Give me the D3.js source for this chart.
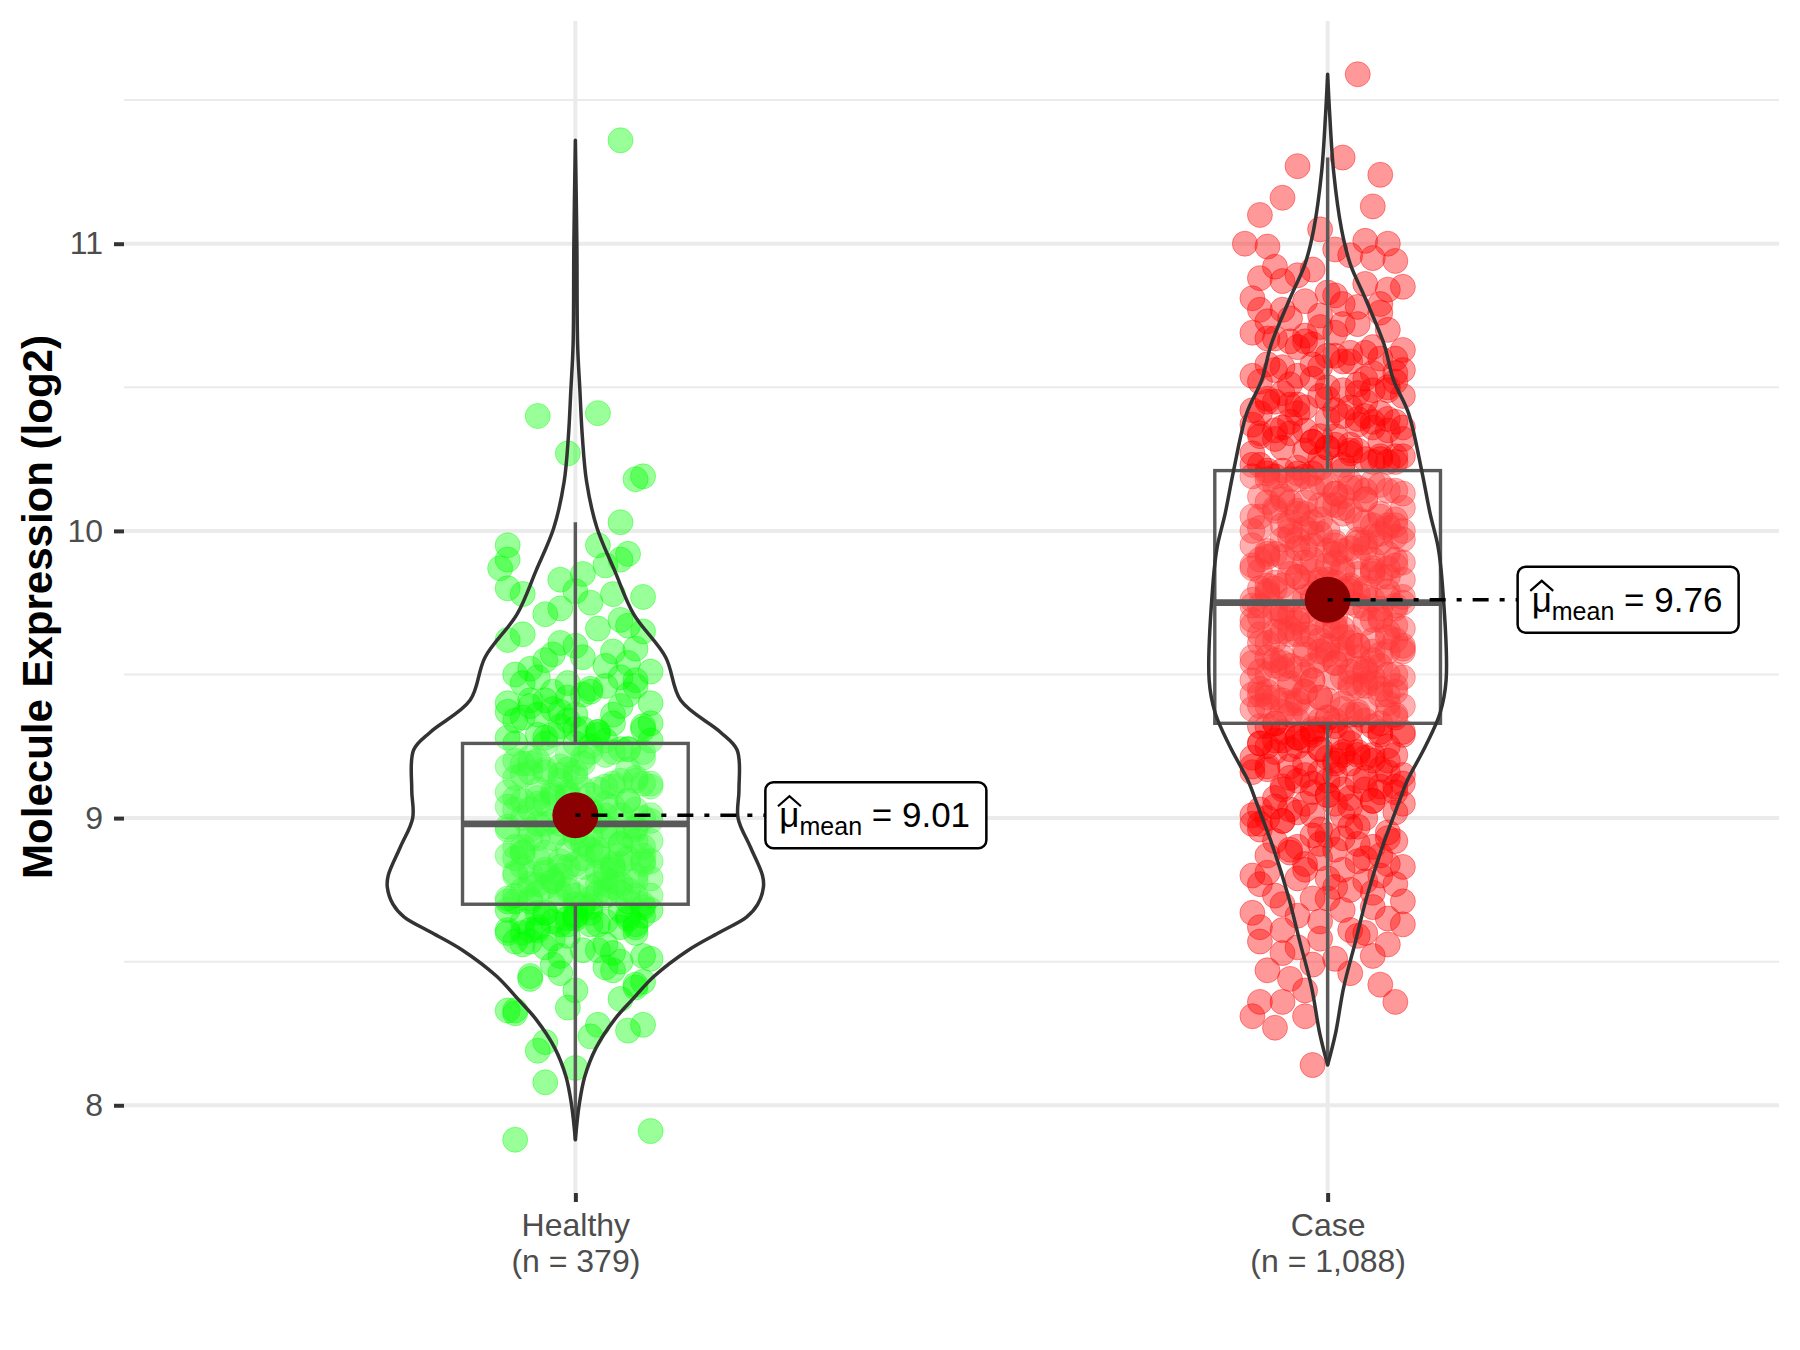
<!DOCTYPE html>
<html>
<head>
<meta charset="utf-8">
<script src="https://cdnjs.cloudflare.com/ajax/libs/d3/7.8.5/d3.min.js"></script>
<style>
  body { margin: 0; background: #fff; }
  svg { display: block; font-family: "Liberation Sans", Arial, sans-serif; }
</style>
</head>
<body>
<div id="chart"></div>
<script>
// ---- data ----
var groups = ["Healthy", "Case"];
var groupCounts = ["379", "1,088"];
var yTicks = [8, 9, 10, 11];
var yMinorTicks = [8.5, 9.5, 10.5, 11.5];
var means = [9.01, 9.76];
var q1 = [8.70, 9.33];
var medians = [8.98, 9.75];
var q3 = [9.26, 10.21];
var whiskerLow = [7.88, 8.14];
var whiskerHigh = [10.03, 11.30];

// violin outlines: value and relative density (1 = widest violin)
var healthyViolinY = [7.88, 8.0, 8.1, 8.2, 8.3, 8.366, 8.45, 8.54, 8.6, 8.655, 8.7, 8.76, 8.8, 8.9, 9.0, 9.1, 9.237, 9.3, 9.41, 9.56, 9.71, 9.86, 10.01, 10.17, 10.33, 10.49, 10.65, 11.0, 11.36];
var healthyViolinD = [0.0, 0.02, 0.05, 0.11, 0.21, 0.30, 0.42, 0.60, 0.76, 0.91, 0.97, 1.0, 0.995, 0.93, 0.865, 0.87, 0.86, 0.77, 0.56, 0.48, 0.31, 0.21, 0.115, 0.06, 0.037, 0.024, 0.012, 0.008, 0.0];
var caseViolinY = [8.14, 8.25, 8.41, 8.57, 8.73, 8.89, 9.05, 9.13, 9.25, 9.366, 9.48, 9.83, 9.945, 10.06, 10.21, 10.41, 10.526, 10.65, 10.81, 10.93, 11.05, 11.25, 11.45, 11.59];
var caseViolinD = [0.0, 0.042, 0.085, 0.148, 0.21, 0.286, 0.376, 0.423, 0.52, 0.598, 0.63, 0.608, 0.587, 0.545, 0.50, 0.43, 0.35, 0.30, 0.20, 0.12, 0.074, 0.032, 0.011, 0.0];

// jittered points: values and horizontal jitter (hundredths of a category step)
var healthyValues = [
  11.36,10.41,10.40,10.27,10.19,10.18,10.03,9.95,9.95,9.92,9.90,9.90,9.88,9.87,9.85,9.83,9.80,9.79,9.78,9.78,9.77,9.75,9.73,9.71,9.67,
  9.66,9.64,9.65,9.61,9.69,9.62,9.60,
  9.58,9.55,9.59,9.52,9.56,9.51,9.57,9.53,9.50,9.54,
  9.47,9.44,9.49,9.41,9.46,9.42,9.48,9.40,9.45,9.43,
  9.38,9.33,9.36,9.31,9.39,9.34,9.30,9.37,9.32,9.35,9.36,9.31,
  9.28,9.24,9.29,9.21,9.26,9.23,9.27,9.20,9.25,9.22,9.28,9.24,9.26,9.21,9.23,9.29,
  9.17,9.13,9.19,9.11,9.15,9.18,9.12,9.16,9.10,9.14,9.18,9.13,9.16,9.11,9.19,9.15,9.12,9.17,9.14,9.10,
  9.08,9.03,9.06,9.01,9.09,9.04,9.07,9.02,9.05,9.00,9.08,9.03,9.06,9.02,9.09,9.05,9.01,9.07,9.04,9.00,
  8.97,8.93,8.99,8.91,8.95,8.98,8.92,8.96,8.90,8.94,8.98,8.92,8.96,8.91,8.99,8.94,8.97,8.93,8.95,8.90,
  8.88,8.83,8.86,8.81,8.89,8.84,8.87,8.82,8.85,8.80,8.88,8.83,8.86,8.81,8.89,8.84,8.87,8.82,8.85,8.80,8.86,8.83,8.88,8.84,
  8.78,8.73,8.76,8.71,8.79,8.74,8.77,8.72,8.75,8.70,8.78,8.73,8.76,8.71,8.79,8.74,8.77,8.72,8.75,8.70,8.76,8.73,8.78,8.74,8.71,
  8.68,8.63,8.66,8.61,8.69,8.64,8.67,8.62,8.65,8.60,8.68,8.63,8.66,8.61,8.69,8.64,8.67,8.62,8.65,8.60,8.66,8.63,
  8.58,8.53,8.56,8.51,8.59,8.54,8.57,8.52,8.55,8.50,8.57,8.54,8.56,8.52,
  8.48,8.45,8.42,8.46,8.40,
  8.37,8.32,8.24,8.22,
  8.47,8.49,8.44,8.43,8.41,8.34,8.33,8.33,8.28,8.28,8.26,8.19,8.13,8.08,7.91,7.88
];
var healthyJitter = [
  6,3,-5,-1,9,8,6,-9,3,7,-9,6,4,-10,1,-2,-9,0,-7,5,9,2,-2,-4,7,
  3,-7,9,-2,6,-9,0,5,-4,8,-6,1,10,-3,4,-8,7,-1,2,-5,
  -6,4,-1,8,-9,2,7,-3,10,-5,0,6,-8,3,-2,9,-7,5,1,-4,
  7,-3,1,-8,5,10,-5,2,-1,-9,6,0,-6,9,3,-4,8,-7,4,-2,
  -2,9,-6,3,0,-9,6,-4,10,1,-7,5,-1,8,-5,2,-8,7,4,-3,
  5,-8,2,-4,9,-1,-6,7,0,-9,4,10,-3,1,-7,8,-5,3,6,-2,
  -5,1,8,-7,4,-2,10,-9,6,-3,2,7,-6,0,9,-4,5,-8,3,-1,
  0,6,-4,10,-8,3,-1,7,-6,2,9,-9,4,-2,8,-5,1,-7,5,-3,
  8,-1,-9,4,-5,6,2,-7,9,-3,0,5,-8,10,-2,3,-6,7,1,-4,
  -8,5,3,-6,10,-2,7,-9,1,4,-4,8,0,-7,6,-1,9,-5,2,-3,
  2,-5,7,-9,0,8,-3,5,-7,10,-1,3,-6,9,-4,6,-8,1,4,-2,
  4,-6,8,-2,0,6,-8,2,-4,
  5,-3,-6,9,8,-1,-8,-9,9,3,7,-5,0,-4,10,-8
];
var healthyMoreValues = [
  9.44,9.40,9.47,9.43,9.49,9.41,9.46,
  9.34,9.30,9.37,9.33,9.39,9.31,9.36,9.32,
  9.24,9.20,9.27,9.23,9.29,9.21,9.26,9.22,
  9.14,9.10,9.17,9.13,9.19,9.11,9.16,9.12,
  9.04,9.00,9.07,9.03,9.09,9.01,9.06,9.02,9.08,9.05,9.03,9.07,
  8.94,8.90,8.97,8.93,8.99,8.91,8.96,8.92,8.98,8.95,8.93,8.97,
  8.84,8.80,8.87,8.83,8.89,8.81,8.86,8.82,8.88,8.85,8.83,8.87,8.81,
  8.74,8.70,8.77,8.73,8.79,8.71,8.76,8.72,8.78,8.75,8.73,8.77,8.71,8.75,
  8.64,8.60,8.67,8.63,8.69,8.61,8.66,8.62,8.68,8.65,8.63,8.67
];
var healthyMoreJitter = [
  -3,10,-7,1,6,-4,8,-1,3,-9,5,-6,9,0,-2,7,-8,4,2,-5,
  9,-4,4,-8,1,7,-2,-6,5,0,10,-9,3,-5,8,-1,6,-7,2,-3,
  -5,2,-1,7,-8,4,-3,10,1,-6,8,-4,5,0,-9,6,-2,9,-7,3,
  -4,1,5,-7,9,-2,3,-8,6,0,-5,10,-3,7,2,-9,8,-1,4,-6,
  -2,4,-7,8,-4,3,9,-6,0,6,-9,-1,2,-5
];

var caseValues = [
  11.59,11.30,11.27,11.24,11.16,11.13,11.10,11.05,11.01,11.00,11.00,10.99,10.98,
  10.96,10.92,10.94,10.91,10.95,
  10.88,10.83,10.86,10.81,10.89,10.84,10.87,10.82,10.85,10.80,
  10.78,10.73,10.76,10.71,10.79,10.74,10.77,10.72,10.75,10.70,10.77,10.72,10.79,
  10.68,10.63,10.66,10.61,10.69,10.64,10.67,10.62,10.65,10.60,10.67,10.62,10.69,10.64,10.60,10.66,10.61,
  10.58,10.53,10.56,10.51,10.59,10.54,10.57,10.52,10.55,10.50,10.57,10.52,10.59,10.54,10.50,10.56,10.51,10.58,10.53,10.55,
  10.48,10.43,10.46,10.41,10.49,10.44,10.47,10.42,10.45,10.40,10.47,10.42,10.49,10.44,10.40,10.46,10.41,10.48,10.43,10.45,10.45,10.49,10.41,
  10.38,10.33,10.36,10.31,10.39,10.34,10.37,10.32,10.35,10.30,10.37,10.32,10.39,10.34,10.30,10.36,10.31,10.38,10.33,10.35,10.35,10.39,10.31,10.36,10.33,10.38,
  10.28,10.23,10.26,10.21,10.29,10.24,10.27,10.22,10.25,10.20,10.27,10.22,10.29,10.24,10.20,10.26,10.21,10.28,10.23,10.25,10.25,10.29,10.21,10.26,10.23,10.28,10.20,10.24,
  10.18,10.13,10.16,10.11,10.19,10.14,10.17,10.12,10.15,10.10,10.17,10.12,10.19,10.14,10.10,10.16,10.11,10.18,10.13,10.15,10.15,10.19,10.11,10.16,10.13,10.18,10.10,10.14,10.17,10.12,
  10.08,10.03,10.06,10.01,10.09,10.04,10.07,10.02,10.05,10.00,10.07,10.02,10.09,10.04,10.00,10.06,10.01,10.08,10.03,10.05,10.05,10.09,10.01,10.06,10.03,10.08,10.00,10.04,10.07,10.02,10.02,10.06,10.00,
  9.98,9.93,9.96,9.91,9.99,9.94,9.97,9.92,9.95,9.90,9.97,9.92,9.99,9.94,9.90,9.96,9.91,9.98,9.93,9.95,9.95,9.99,9.91,9.96,9.93,9.98,9.90,9.94,9.97,9.92,9.92,9.96,9.90,9.97,9.94,
  9.88,9.83,9.86,9.81,9.89,9.84,9.87,9.82,9.85,9.80,9.87,9.82,9.89,9.84,9.80,9.86,9.81,9.88,9.83,9.85,9.85,9.89,9.81,9.86,9.83,9.88,9.80,9.84,9.87,9.82,9.82,9.86,9.80,9.87,9.84,9.89,
  9.78,9.73,9.76,9.71,9.79,9.74,9.77,9.72,9.75,9.70,9.77,9.72,9.79,9.74,9.70,9.76,9.71,9.78,9.73,9.75,9.75,9.79,9.71,9.76,9.73,9.78,9.70,9.74,9.77,9.72,9.72,9.76,9.70,9.77,9.74,9.79,9.73,
  9.68,9.63,9.66,9.61,9.69,9.64,9.67,9.62,9.65,9.60,9.67,9.62,9.69,9.64,9.60,9.66,9.61,9.68,9.63,9.65,9.65,9.69,9.61,9.66,9.63,9.68,9.60,9.64,9.67,9.62,9.62,9.66,9.60,9.67,9.64,9.69,9.63,
  9.58,9.53,9.56,9.51,9.59,9.54,9.57,9.52,9.55,9.50,9.57,9.52,9.59,9.54,9.50,9.56,9.51,9.58,9.53,9.55,9.55,9.59,9.51,9.56,9.53,9.58,9.50,9.54,9.57,9.52,9.52,9.56,9.50,9.57,9.54,9.59,9.53,9.58,
  9.48,9.43,9.46,9.41,9.49,9.44,9.47,9.42,9.45,9.40,9.47,9.42,9.49,9.44,9.40,9.46,9.41,9.48,9.43,9.45,9.45,9.49,9.41,9.46,9.43,9.48,9.40,9.44,9.47,9.42,9.42,9.46,9.40,9.47,9.44,9.49,9.43,
  9.38,9.33,9.36,9.31,9.39,9.34,9.37,9.32,9.35,9.30,9.37,9.32,9.39,9.34,9.30,9.36,9.31,9.38,9.33,9.35,9.35,9.39,9.31,9.36,9.33,9.38,9.30,9.34,9.37,9.32,9.32,9.36,9.30,9.37,9.34,
  9.28,9.23,9.26,9.21,9.29,9.24,9.27,9.22,9.25,9.20,9.27,9.22,9.29,9.24,9.20,9.26,9.21,9.28,9.23,9.25,9.25,9.29,9.21,9.26,9.23,9.28,9.20,9.24,9.27,9.22,9.22,
  9.18,9.13,9.16,9.11,9.19,9.14,9.17,9.12,9.15,9.10,9.17,9.12,9.19,9.14,9.10,9.16,9.11,9.18,9.13,9.15,9.15,9.19,9.11,9.16,9.13,9.18,9.10,
  9.08,9.03,9.06,9.01,9.09,9.04,9.07,9.02,9.05,9.00,9.07,9.02,9.09,9.04,9.00,9.06,9.01,9.08,9.03,9.05,9.05,9.09,9.01,
  8.98,8.93,8.96,8.91,8.99,8.94,8.97,8.92,8.95,8.90,8.97,8.92,8.99,8.94,8.90,8.96,8.91,8.98,8.93,
  8.88,8.83,8.86,8.81,8.89,8.84,8.87,8.82,8.85,8.80,8.87,8.82,8.89,8.84,8.80,8.86,
  8.78,8.73,8.76,8.71,8.79,8.74,8.77,8.72,8.75,8.70,8.77,8.72,8.79,
  8.69,8.68,8.67,8.66,8.65,8.64,8.63,8.62,8.61,8.61,8.60,
  8.59,8.58,8.57,8.56,8.55,8.53,8.52,8.51,
  8.49,8.47,8.46,8.44,8.42,8.40,
  8.36,8.36,8.36,8.31,8.31,8.27,8.14
];
var caseJitter = [
  4,2,-4,7,-6,6,-9,-1,5,8,-11,-8,1,
  3,-7,9,-2,6,-9,0,5,-10,-4,8,-6,1,10,-3,4,-8,7,-1,2,-5,
  -6,4,-1,8,-9,2,7,-3,10,-5,0,-10,6,-8,3,-2,9,-7,5,1,-4,
  7,-3,1,-8,5,10,-5,2,-10,-1,-9,6,0,-6,9,3,-4,8,-7,4,-2,
  -2,9,-6,3,0,-9,6,-4,10,1,-7,5,-1,-10,8,-5,2,-8,7,4,-3,
  5,-8,2,-4,9,-1,-6,7,0,-9,4,10,-3,1,-10,-7,8,-5,3,6,-2,
  -5,1,8,-7,4,-2,10,-9,6,-3,2,7,-6,0,9,-10,-4,5,-8,3,-1,
  0,6,-4,10,-8,3,-10,-1,7,-6,2,9,-9,4,-2,8,-5,1,-7,5,-3,
  8,-1,-9,4,-5,6,2,-7,9,-3,0,5,-8,10,-2,3,-10,-6,7,1,-4,
  -8,5,3,-6,10,-2,7,-9,1,4,-4,8,-10,0,-7,6,-1,9,-5,2,-3,
  2,-5,7,-9,0,8,-3,5,-7,10,-1,3,-6,9,-4,-10,6,-8,1,4,-2,
  -3,10,-7,1,6,-4,8,-1,3,-9,5,-6,9,0,-10,-2,7,-8,4,2,-5,
  9,-4,4,-8,1,7,-2,-6,5,0,10,-9,3,-5,8,-10,-1,6,-7,2,-3,
  -3,7,-9,2,-6,9,0,-5,4,10,-8,6,-1,-10,3,-4,8,-7,1,-2,5,
  6,-4,1,-8,9,-2,-7,3,-10,5,0,10,-6,8,-3,2,-9,7,-5,-1,4,
  -7,3,-1,8,-5,-10,5,-2,1,9,10,-6,0,6,-9,-3,4,-8,7,-4,2,
  2,-9,6,-3,0,9,-6,4,-10,-1,7,-5,10,1,-8,5,-2,8,-7,-4,3,
  -5,8,-2,4,-9,1,6,-7,10,0,9,-4,-10,3,-1,7,-8,5,-3,-6,2,
  5,-1,-8,7,-4,2,-10,9,-6,3,10,-2,-7,6,0,-9,4,-5,8,-3,1,
  0,-6,4,-10,8,-3,1,10,-7,6,-2,-9,9,-4,2,-8,5,-1,7,-5,3,
  -8,1,9,-4,5,-6,-2,7,-9,3,10,0,-5,8,-10,2,-3,6,-7,-1,4,
  8,-5,-3,6,-10,2,-7,9,-1,10,-4,4,-8,0,7,-6,1,-9,5,-2,3,
  -2,5,-7,9,0,-8,3,-5,7,-10,10,1,-3,6,-9,4,-6,8,-1,-4,2,
  3,-10,7,-1,-6,4,-8,1,-3,9,10,-5,6,-9,0,2,-7,8,-4,-2,5,
  -9,4,-4,8,-1,-7,2,6,-5,0,-10,9,-3,5,-8,10,1,-6,7,-2,3,
  -5,2,-1,7,-8,4,-3,10,1,-6,8,-4,-10,5,0,-9,6,-2,9,-7,3,
  -4,1,5,-7,9,-2,3,-8,6,-10,0,-5,10,-3,7,2,-9,8,-1,4,-6,
  -2,4,-7,8,-4,3,9,-6,0,6,-9,-1,-10,2,-5,10,5,-8,1,-3,7,
  -3,4,7,-8,2,-5,8,-10,-1,5,-7,1,10,-4,6,-9,0,3,-6,9,-2,
  0,
  6,2,-10,-4,8,-1,10,-9,3,-6,5,
  4,-1,-9,8,-4,-6,6,1,
  -2,-8,3,-5,7,-3,
  -9,-6,9,-10,-3,-7,-2
];

// ---- layout ----
var width = 1800, height = 1350;
var panel = { left: 124, right: 1779, top: 21, bottom: 1193 };
var pointColors = ["#00FF00", "#FF0000"];

var allValues = healthyValues.concat(caseValues);
var ext = d3.extent(allValues);
var pad = (ext[1] - ext[0]) * 0.05;

var x = d3.scalePoint().domain(groups).range([panel.left, panel.right]).padding(0.6);
var step = x.step();
var y = d3.scaleLinear().domain([ext[0] - pad, ext[1] + pad]).range([panel.bottom, panel.top]);

var svg = d3.select("#chart").append("svg")
  .attr("width", width)
  .attr("height", height);

svg.append("rect").attr("width", width).attr("height", height).attr("fill", "#fff");

// grid
var grid = svg.append("g");
grid.selectAll(".minor").data(yMinorTicks).enter().append("line")
  .attr("x1", panel.left).attr("x2", panel.right)
  .attr("y1", d => y(d)).attr("y2", d => y(d))
  .attr("stroke", "#EBEBEB").attr("stroke-width", 2);
grid.selectAll(".major").data(yTicks).enter().append("line")
  .attr("x1", panel.left).attr("x2", panel.right)
  .attr("y1", d => y(d)).attr("y2", d => y(d))
  .attr("stroke", "#EBEBEB").attr("stroke-width", 4);
grid.selectAll(".vert").data(groups).enter().append("line")
  .attr("x1", d => x(d)).attr("x2", d => x(d))
  .attr("y1", panel.top).attr("y2", panel.bottom)
  .attr("stroke", "#EBEBEB").attr("stroke-width", 4);

// axes
var yAxis = svg.append("g")
  .attr("transform", "translate(" + panel.left + ",0)")
  .call(d3.axisLeft(y).tickValues(yTicks).tickSize(10).tickPadding(11).tickFormat(d3.format("d")));
yAxis.attr("font-family", null).attr("font-size", null);
yAxis.select(".domain").remove();
yAxis.selectAll(".tick line").attr("stroke", "#333333").attr("stroke-width", 4);
yAxis.selectAll(".tick text").attr("fill", "#4D4D4D").style("font-size", "32px");

var xAxis = svg.append("g")
  .attr("transform", "translate(0," + panel.bottom + ")")
  .call(d3.axisBottom(x).tickSize(9).tickFormat(""));
xAxis.attr("font-family", null).attr("font-size", null);
xAxis.select(".domain").remove();
xAxis.selectAll(".tick line").attr("stroke", "#333333").attr("stroke-width", 4);
xAxis.selectAll(".tick text").each(function(d, i) {
  var t = d3.select(this).attr("y", null).attr("dy", null)
    .attr("fill", "#4D4D4D").style("font-size", "32px");
  t.append("tspan").attr("x", 0).attr("y", 43).text(d);
  t.append("tspan").attr("x", 0).attr("y", 79).text("(n = " + groupCounts[i] + ")");
});

svg.append("text")
  .attr("transform", "translate(52," + ((panel.top + panel.bottom) / 2) + ") rotate(-90)")
  .attr("text-anchor", "middle")
  .attr("font-weight", "bold")
  .style("font-size", "42px")
  .attr("fill", "#000")
  .text("Molecule Expression (log2)");

// jittered points
function drawPoints(vals, jit, gi) {
  svg.append("g").selectAll("circle").data(vals).enter().append("circle")
    .attr("cx", (d, i) => x(groups[gi]) + (jit[i] || 0) / 100 * step)
    .attr("cy", d => y(d))
    .attr("r", 12.5)
    .attr("fill", pointColors[gi]).attr("fill-opacity", 0.4)
    .attr("stroke", pointColors[gi]).attr("stroke-opacity", 0.4).attr("stroke-width", 1);
}
drawPoints(healthyValues, healthyJitter, 0);
drawPoints(healthyMoreValues, healthyMoreJitter, 0);
drawPoints(caseValues, caseJitter, 1);

// boxplots
groups.forEach(function(g, i) {
  var cx = x(g), hw = 0.15 * step;
  var b = svg.append("g");
  b.append("line").attr("x1", cx).attr("x2", cx)
    .attr("y1", y(whiskerHigh[i])).attr("y2", y(q3[i]))
    .attr("stroke", "#595959").attr("stroke-width", 3.4);
  b.append("line").attr("x1", cx).attr("x2", cx)
    .attr("y1", y(q1[i])).attr("y2", y(whiskerLow[i]))
    .attr("stroke", "#595959").attr("stroke-width", 3.4);
  b.append("rect")
    .attr("x", cx - hw).attr("y", y(q3[i]))
    .attr("width", 2 * hw).attr("height", y(q1[i]) - y(q3[i]))
    .attr("fill", "#fff").attr("fill-opacity", 0.22)
    .attr("stroke", "#595959").attr("stroke-width", 3.4);
  b.append("line").attr("x1", cx - hw).attr("x2", cx + hw)
    .attr("y1", y(medians[i])).attr("y2", y(medians[i]))
    .attr("stroke", "#595959").attr("stroke-width", 6.8);
});

// violins
var violins = [
  { ys: healthyViolinY, ds: healthyViolinD },
  { ys: caseViolinY, ds: caseViolinD }
];
violins.forEach(function(v, i) {
  var cx = x(groups[i]);
  var pts = v.ys.map((val, k) => ({ v: val, d: v.ds[k] }));
  var area = d3.area()
    .curve(d3.curveCatmullRom)
    .y(d => y(d.v))
    .x0(d => cx - d.d * 0.25 * step)
    .x1(d => cx + d.d * 0.25 * step);
  svg.append("path")
    .attr("d", area(pts))
    .attr("fill", "none")
    .attr("stroke", "#333333")
    .attr("stroke-width", 3.5)
    .attr("stroke-linejoin", "round");
});

// means + labels
groups.forEach(function(g, i) {
  var cx = x(g), my = y(means[i]);
  var bx = cx + 190, bw = 221, bh = 66;
  svg.append("circle").attr("cx", cx).attr("cy", my).attr("r", 23).attr("fill", "#8B0000");
  svg.append("line")
    .attr("x1", cx).attr("x2", bx).attr("y1", my).attr("y2", my)
    .attr("stroke", "#000").attr("stroke-width", 3.5)
    .attr("stroke-dasharray", "5,11,16,11");
  svg.append("rect")
    .attr("x", bx).attr("y", my - bh / 2).attr("width", bw).attr("height", bh)
    .attr("rx", 8).attr("ry", 8)
    .attr("fill", "#fff").attr("stroke", "#000").attr("stroke-width", 2.5);
  var base = my + 12;
  var t = svg.append("text")
    .attr("x", bx + 14).attr("y", base)
    .style("font-size", "35px").style("white-space", "pre")
    .attr("fill", "#000");
  t.append("tspan").text("\u03BC");
  t.append("tspan").style("font-size", "25px").attr("dy", 8).text("mean");
  t.append("tspan").attr("dy", -8).text(" = " + means[i].toFixed(2));
  var e = t.node().getExtentOfChar(0);
  var hx = e.x + e.width / 2;
  svg.append("path")
    .attr("d", "M" + (hx - 11.5) + "," + (base - 21) + "L" + hx + "," + (base - 31) + "L" + (hx + 11.5) + "," + (base - 21))
    .attr("fill", "none").attr("stroke", "#000").attr("stroke-width", 2.2);
});
</script>
</body>
</html>
